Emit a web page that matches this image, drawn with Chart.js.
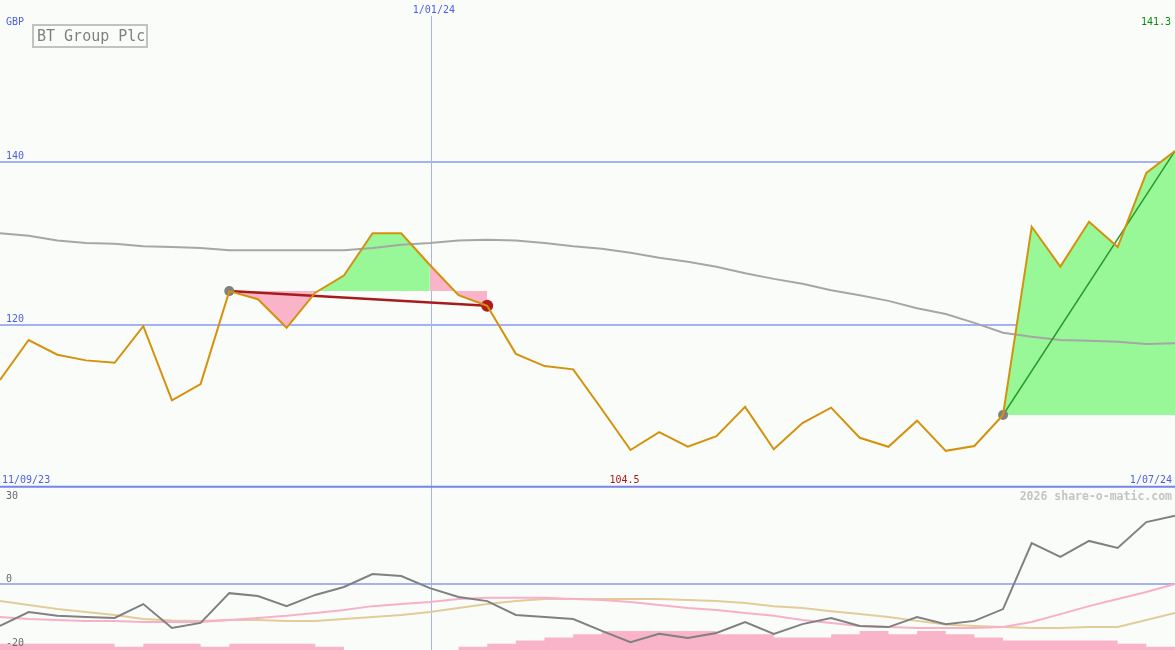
<!DOCTYPE html>
<html><head><meta charset="utf-8">
<script src="https://cdn.jsdelivr.net/npm/chart.js@4.4.1/dist/chart.umd.min.js"></script>
<style>
html,body{margin:0;padding:0;background:#fafcfa;}
#wrap{position:relative;width:1175px;height:650px;overflow:hidden;background:#fafcfa;}
canvas{position:absolute;left:0;}
#top{top:0}
#bot{top:488px}
</style></head><body>
<div id="wrap"><canvas id="top" width="1175" height="488"></canvas><canvas id="bot" width="1175" height="162"></canvas></div>
<script>
// ---- labels ----
const title = 'BT Group Plc';
const currency = 'GBP';
const startLabel = '11/09/23';
const endLabel = '1/07/24';
const markerLabel = '1/01/24';
const markerWeek = 15;
const maxLabel = '141.3';
const minLabel = '104.5';
const minWeek = 22;
const watermark = '2026 share-o-matic.com';
const priceTicks = [120, 140];
const oscTicks = [30, 0, -20];

// ---- weekly series (week index 0..41) ----
const price = [113.2,118.1,116.3,115.6,115.3,119.8,110.7,112.7,124.1,123.1,
               119.6,123.9,126.0,131.2,131.2,127.3,123.6,122.3,116.4,114.9,
               114.5,109.6,104.6,106.8,105.0,106.3,109.9,104.7,107.9,109.8,
               106.1,105.0,108.2,104.5,105.1,108.9,132.0,127.1,132.6,129.5,
               138.6,141.3];
const longMA = [131.2,130.9,130.3,130.0,129.9,129.6,129.5,129.4,129.1,129.1,
                129.1,129.1,129.1,129.4,129.8,130.0,130.3,130.4,130.3,130.0,
                129.6,129.3,128.8,128.2,127.7,127.1,126.3,125.6,125.0,124.2,
                123.6,122.9,122.0,121.3,120.2,119.0,118.5,118.1,118.0,117.9,
                117.6,117.7];
const oscillator = [-14.2,-9.5,-10.8,-11.2,-11.5,-6.8,-14.9,-13.2,-3.1,-4.1,
                    -7.5,-3.7,-1.0,3.4,2.7,-1.4,-4.4,-5.8,-10.5,-11.2,
                    -11.9,-15.9,-19.7,-16.9,-18.3,-16.6,-12.9,-16.9,-13.6,-11.5,
                    -14.2,-14.6,-11.2,-13.6,-12.5,-8.5,13.9,9.2,14.6,12.2,
                    21.0,23.1];
const oscPink = [-11.2,-11.9,-12.2,-12.5,-12.5,-12.9,-12.9,-12.9,-12.2,-11.5,
                 -10.8,-9.8,-8.8,-7.5,-6.8,-6.1,-5.1,-4.7,-4.7,-4.7,
                 -5.1,-5.4,-6.1,-7.1,-8.1,-8.8,-9.8,-10.8,-12.2,-13.2,
                 -14.2,-14.6,-14.9,-14.9,-14.9,-14.6,-12.9,-10.2,-7.5,-5.1,
                 -2.7,0];
const oscTan = [-5.8,-7.1,-8.5,-9.5,-10.5,-11.9,-12.4,-12.5,-12.2,-12.2,
                -12.5,-12.5,-11.9,-11.2,-10.5,-9.5,-8.1,-6.8,-5.8,-5.1,
                -5.1,-5.1,-5.1,-5.1,-5.4,-5.8,-6.4,-7.5,-8.1,-9.2,
                -10.2,-11.2,-12.5,-13.7,-14.2,-14.6,-14.9,-14.9,-14.6,-14.6,
                -12.2,-9.8];
// weekly step levels (one per week interval)
const volumeSteps = [2,2,2,2,1,2,2,1,2,2,2,1,0,0,0,0,1,2,3,4,5,6,6,6,6,5,5,4,4,5,6,5,6,5,4,3,3,3,3,2,1];

// trend segments [startWeek, endWeek]
const trendA = [8, 17];
const trendB = [35, 41];
// fill segments of the first trend [from, to, colour-kind]
const trendAFills = [[8, 11, 'down'], [11, 15, 'up'], [15, 17, 'down']];

// ---- colours ----
const C = {
  price:'#d4920c', ma:'#a6a6a6', red:'#a61c1c', redDot:'#b01c1c', grey:'#808080',
  green:'#2a9a2a', up:'#98f898', down:'#f9b4c9', grid:'#a4b2f4', axis:'#7484ec',
  blue:'#4a5ee8', vline:'#a9b3e9', oscGrey:'#808080', oscPink:'#f8b0c8', oscTan:'#e2cc9a'
};
const FONT = '"DejaVu Sans Mono", "Liberation Mono", monospace';

const pts = (arr, from, to) => arr.slice(from, to + 1).map((v, k) => ({x: from + k, y: v}));
const allPts = arr => arr.map((v, i) => ({x: i, y: v}));

// ---- top chart ----
const topDatasets = [
  {data: allPts(price), borderColor: C.price, borderWidth: 2, pointRadius: 0},
  {data: [{x: trendB[0], y: price[trendB[0]]}, {x: trendB[1], y: price[trendB[1]]}],
   borderColor: C.green, borderWidth: 1.5, pointRadius: [5, 0], pointBorderWidth: 0,
   pointBackgroundColor: C.grey},
  {data: [{x: trendA[0], y: price[trendA[0]]}, {x: trendA[1], y: price[trendA[1]]}],
   borderColor: C.red, borderWidth: 2.5, pointRadius: [5, 6], pointBorderWidth: 0,
   pointBackgroundColor: [C.grey, C.redDot]},
  {data: allPts(longMA), borderColor: C.ma, borderWidth: 2, pointRadius: 0},
];
trendAFills.forEach(([a, b, kind]) => topDatasets.push({
  data: pts(price, a, b), borderColor: 'transparent', borderWidth: 0, pointRadius: 0,
  backgroundColor: kind === 'up' ? C.up : C.down, fill: {value: price[trendA[0]]}
}));
topDatasets.push({
  data: pts(price, trendB[0], trendB[1]), borderColor: 'transparent', borderWidth: 0, pointRadius: 0,
  backgroundColor: C.up, fill: {value: price[trendB[0]]}
});

function vline(chart, topGap) {
  const {ctx, chartArea, scales} = chart;
  const x = Math.round(scales.x.getPixelForValue(markerWeek)) + 1.5;
  ctx.save(); ctx.strokeStyle = C.vline; ctx.lineWidth = 1;
  ctx.beginPath(); ctx.moveTo(x, chartArea.top + topGap); ctx.lineTo(x, chartArea.bottom); ctx.stroke();
  ctx.restore();
}
function txt(ctx, s, x, y, color, align, font) {
  ctx.fillStyle = color; ctx.textAlign = align || 'left'; ctx.textBaseline = 'alphabetic';
  ctx.font = font || ('10px ' + FONT); ctx.fillText(s, x, y);
}

const topDecor = {
  id: 'topDecor',
  beforeDatasetsDraw(chart) { vline(chart, 16); },
  afterDatasetsDraw(chart) {
    const {ctx, chartArea, scales} = chart;
    ctx.save();
    ctx.strokeStyle = C.axis; ctx.lineWidth = 2;
    ctx.beginPath(); ctx.moveTo(chartArea.left, chartArea.bottom - 1.2); ctx.lineTo(chartArea.right, chartArea.bottom - 1.2); ctx.stroke();
    txt(ctx, currency, 6, 25, C.blue);
    priceTicks.forEach(t => txt(ctx, String(t), 6, scales.y.getPixelForValue(t) - 3, C.blue));
    const mx = scales.x.getPixelForValue(markerWeek);
    txt(ctx, markerLabel, mx + 4, 13, C.blue, 'center');
    txt(ctx, maxLabel, chartArea.right - 4, 25, '#0a8a0a', 'right');
    txt(ctx, startLabel, 2, chartArea.bottom - 5, C.blue);
    txt(ctx, minLabel, scales.x.getPixelForValue(minWeek) - 6, chartArea.bottom - 5, '#b01818', 'center');
    txt(ctx, endLabel, chartArea.right - 3, chartArea.bottom - 5, C.blue, 'right');
    ctx.strokeStyle = '#c2c2c2'; ctx.lineWidth = 2;
    ctx.strokeRect(33, 25, 114, 22);
    txt(ctx, title, 37, 41, '#808080', 'left', '15px ' + FONT);
    ctx.restore();
  }
};

const baseScaleX = {type: 'linear', min: 0, max: price.length - 1, display: false};
const gridY = ticksArr => ({
  display: true,
  afterBuildTicks: axis => { axis.ticks = ticksArr.map(v => ({value: v})); },
  ticks: {display: false},
  border: {display: false},
  grid: {color: C.grid, lineWidth: 2, drawTicks: false}
});

new Chart(document.getElementById('top'), {
  type: 'line',
  data: {datasets: topDatasets},
  options: {
    responsive: false, animation: false,
    layout: {padding: 0, autoPadding: false},
    plugins: {legend: {display: false}, tooltip: {enabled: false}},
    elements: {line: {tension: 0}},
    scales: {
      x: baseScaleX,
      y: Object.assign({min: 99.94, max: 159.82}, gridY(priceTicks))
    }
  },
  plugins: [topDecor]
});

// ---- bottom chart ----
const volPts = volumeSteps.map((v, i) => ({x: i, y: v}));
volPts.push({x: volumeSteps.length, y: volumeSteps[volumeSteps.length - 1]});

const botDecor = {
  id: 'botDecor',
  beforeDatasetsDraw(chart) { vline(chart, 0); },
  afterDatasetsDraw(chart) {
    const {ctx, chartArea, scales} = chart;
    ctx.save();
    txt(ctx, watermark, chartArea.right - 3, 12, '#c4c4c4', 'right', 'bold 11.5px ' + FONT);
    txt(ctx, String(oscTicks[0]), 6, scales.y.getPixelForValue(oscTicks[0]) + 4, '#6a6a6a');
    txt(ctx, String(oscTicks[1]), 6, scales.y.getPixelForValue(oscTicks[1]) - 2, '#6a6a6a');
    txt(ctx, String(oscTicks[2]), 6, scales.y.getPixelForValue(oscTicks[2]) + 3, '#6a6a6a');
    ctx.restore();
  }
};

new Chart(document.getElementById('bot'), {
  type: 'line',
  data: {datasets: [
    {data: allPts(oscillator), borderColor: C.oscGrey, borderWidth: 2, pointRadius: 0},
    {data: allPts(oscPink), borderColor: C.oscPink, borderWidth: 2, pointRadius: 0},
    {data: allPts(oscTan), borderColor: C.oscTan, borderWidth: 2, pointRadius: 0},
    {data: volPts, yAxisID: 'yb', stepped: 'before', fill: 'start', backgroundColor: C.down,
     borderColor: 'transparent', borderWidth: 0, pointRadius: 0}
  ]},
  options: {
    responsive: false, animation: false,
    layout: {padding: 0, autoPadding: false},
    plugins: {legend: {display: false}, tooltip: {enabled: false}},
    elements: {line: {tension: 0}},
    scales: {
      x: baseScaleX,
      y: Object.assign({min: -22.37, max: 32.54}, gridY([0])),
      yb: {min: 0, max: 51.4, display: false}
    }
  },
  plugins: [botDecor]
});
</script>
</body></html>
